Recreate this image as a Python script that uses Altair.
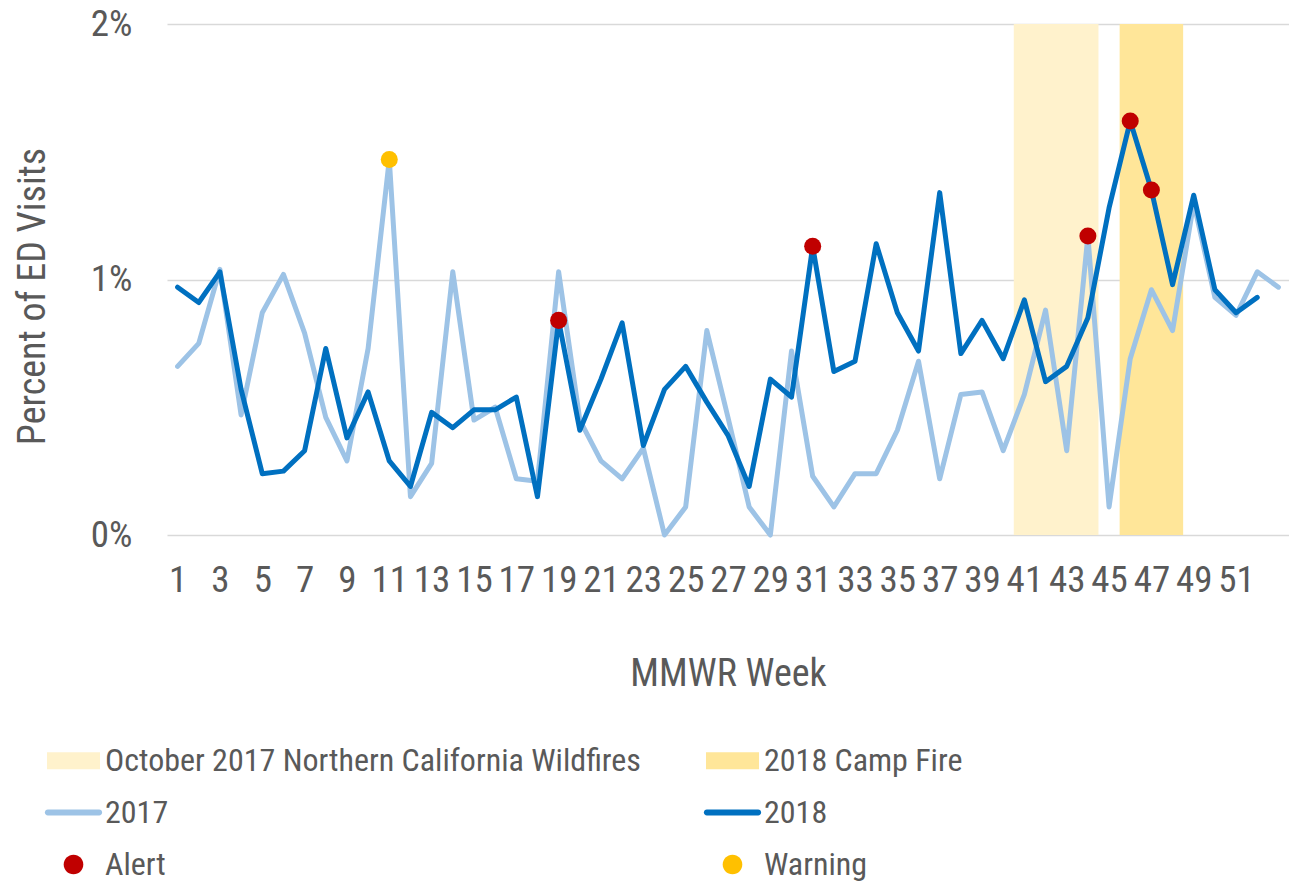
import altair as alt
import pandas as pd

# ---------------- data ----------------
weeks = list(range(1, 54))
pct_2017 = [0.66, 0.75, 1.04, 0.47, 0.87, 1.02, 0.79, 0.46, 0.29, 0.73,
            1.47, 0.15, 0.28, 1.03, 0.45, 0.50, 0.22, 0.21, 1.03, 0.45,
            0.29, 0.22, 0.34, 0.00, 0.11, 0.80, 0.46, 0.11, 0.00, 0.72,
            0.23, 0.11, 0.24, 0.24, 0.41, 0.68, 0.22, 0.55, 0.56, 0.33,
            0.55, 0.88, 0.33, 1.17, 0.11, 0.69, 0.96, 0.80, 1.30, 0.93,
            0.86, 1.03, 0.97]
pct_2018 = [0.97, 0.91, 1.03, 0.57, 0.24, 0.25, 0.33, 0.73, 0.38, 0.56,
            0.29, 0.19, 0.48, 0.42, 0.49, 0.49, 0.54, 0.15, 0.84, 0.41,
            0.61, 0.83, 0.35, 0.57, 0.66, 0.52, 0.39, 0.19, 0.61, 0.54,
            1.13, 0.64, 0.68, 1.14, 0.87, 0.72, 1.34, 0.71, 0.84, 0.69,
            0.92, 0.60, 0.66, 0.85, 1.28, 1.62, 1.35, 0.98, 1.33, 0.96,
            0.87, 0.93, None]
alert_weeks = [19, 31, 44, 46, 47]
alert_values = [0.84, 1.13, 1.17, 1.62, 1.35]
warning_weeks = [11]
warning_values = [1.47]
band_labels = ["October 2017 Northern California Wildfires", "2018 Camp Fire"]
band_first_week = [41, 46]
band_last_week = [44, 48]
x_tick_weeks = list(range(1, 52, 2))
y_ticks = [0, 1, 2]

legend_order = band_labels + ["2017", "2018", "Alert", "Warning"]
legend_colors = ["#FFF2CC", "#FFE699", "#9DC3E6", "#0070C0", "#C00000", "#FFC000"]

FONT = "Roboto Condensed, Liberation Sans Narrow, Roboto, sans-serif"
TXT = "#595959"

# ---------------- tables ----------------
df17 = pd.DataFrame({"week": weeks, "pct": pct_2017, "series": "2017"})
df18 = pd.DataFrame({"week": weeks, "pct": pct_2018, "series": "2018"}).dropna()
dfa = pd.DataFrame({"week": alert_weeks, "pct": alert_values, "series": "Alert"})
dfw = pd.DataFrame({"week": warning_weeks, "pct": warning_values, "series": "Warning"})
dfb = pd.DataFrame({"series": band_labels, "first": band_first_week,
                    "last": band_last_week})

rect_path = "M-1,-0.32H1V0.32H-1Z"
line_path = "M-0.97,-0.11H0.97A0.11,0.11,0,0,1,0.97,0.11H-0.97A0.11,0.11,0,0,1,-0.97,-0.11Z"
circ_path = "M-0.37,0A0.37,0.37,0,1,1,0.37,0A0.37,0.37,0,1,1,-0.37,0Z"
shape_expr = ("indexof(['Alert','Warning'], datum.value) >= 0 ? '" + circ_path +
              "' : (indexof(['2017','2018'], datum.value) >= 0 ? '" + line_path +
              "' : '" + rect_path + "')")

color_scale = alt.Scale(domain=legend_order, range=legend_colors)
legend = alt.Legend(
    title=None, orient="none", legendX=-120, legendY=710,
    columns=2, direction="horizontal", columnPadding=62, rowPadding=9,
    symbolSize=2809, symbolStrokeWidth=0, labelOffset=5,
    labelFont=FONT, labelFontSize=32, labelColor=TXT, labelLimit=800,
    padding=0, symbolOpacity=1,
    symbolType=alt.ExprRef(expr=shape_expr),
    symbolFillColor=alt.ExprRef(expr="scale('color', datum.value)"),
)
color = alt.Color("series:N", scale=color_scale, legend=legend)

x_scale = alt.Scale(domain=[0.5, 53.5], nice=False, zero=False)
y_scale = alt.Scale(domain=[0, 2], nice=False)

x_axis = alt.Axis(values=x_tick_weeks, title="MMWR Week", grid=False, ticks=False,
                  domain=False, labelFont=FONT, labelFontSize=37, labelColor=TXT,
                  labelPadding=27, labelFlush=False, labelOverlap=False,
                  titleFont=FONT, titleFontSize=38, titleFontWeight="normal",
                  titleColor=TXT, titleY=139, titleBaseline="middle")
y_axis = alt.Axis(values=y_ticks, title="Percent of ED Visits", grid=True,
                  gridColor="#D9D9D9", gridWidth=1.5, ticks=False, domain=False,
                  labelExpr="datum.value + '%'", labelFont=FONT, labelFontSize=37,
                  labelColor=TXT, labelPadding=35, labelBaseline="middle",
                  titleFont=FONT, titleFontSize=38, titleFontWeight="normal",
                  titleColor=TXT, titleX=-134, titleY=272, titleAngle=270,
                  titleBaseline="middle", titleAlign="center")

bands = alt.Chart(dfb).transform_calculate(
    x0="datum.first - 0.5", x1="datum.last + 0.5", y0="0", y1="2"
).mark_rect().encode(
    x=alt.X("x0:Q", scale=x_scale, axis=x_axis),
    x2="x1:Q",
    y=alt.Y("y0:Q", scale=y_scale, axis=y_axis),
    y2="y1:Q",
    color=color,
)

def line_layer(df):
    return alt.Chart(df).mark_line(strokeWidth=5, strokeJoin="round",
                                   strokeCap="round").encode(
        x=alt.X("week:Q", scale=x_scale, axis=x_axis),
        y=alt.Y("pct:Q", scale=y_scale, axis=y_axis),
        color=color,
    )

def point_layer(df):
    return alt.Chart(df).mark_circle(size=290, opacity=1).encode(
        x=alt.X("week:Q", scale=x_scale, axis=x_axis),
        y=alt.Y("pct:Q", scale=y_scale, axis=y_axis),
        color=color,
    )

chart = alt.layer(
    bands, line_layer(df17), line_layer(df18), point_layer(dfa), point_layer(dfw)
).properties(
    width=1122, height=511,
    autosize=alt.AutoSizeParams(type="none"),
    padding={"left": 159, "top": 16, "right": 0, "bottom": 346},
    background="white",
).configure_view(stroke=None)

chart.save("out.html", embed_options={"renderer": "svg", "actions": False})
